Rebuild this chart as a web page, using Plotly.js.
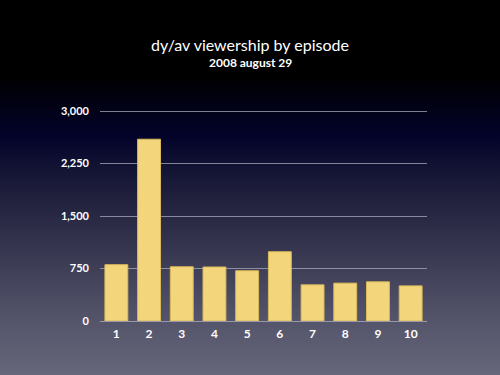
<!DOCTYPE html>
<html>
<head>
<meta charset="utf-8">
<script src="https://cdn.plot.ly/plotly-3.0.1.min.js"></script>
<style>
html,body{margin:0;padding:0;}
body{width:500px;height:375px;overflow:hidden;
background:linear-gradient(to bottom,#000000 0%,#000000 20%,#03032a 36%,#1c1c3a 50%,#34344e 65%,#4f4f66 82%,#67677b 100%);}
#chart{width:500px;height:375px;}
</style>
</head>
<body>
<div id="chart"></div>
<script>
var episodes = ['1','2','3','4','5','6','7','8','9','10'];
var viewers = [805, 2598, 775, 772, 718, 990, 517, 541, 560, 502];
var yTicks = [0, 750, 1500, 2250, 3000];
var titleText = 'dy/av viewership by episode';
var subtitleText = '2008 august 29';

var font = 'Lato, "Open Sans", "DejaVu Sans", sans-serif';

Plotly.newPlot('chart', [{
  type: 'bar',
  x: episodes,
  y: viewers,
  width: 0.7,
  marker: {color: '#f3d67c', line: {color: '#d9b95a', width: 1}},
  hoverinfo: 'none'
}], {
  width: 500, height: 375,
  margin: {l: 100, r: 73, t: 109, b: 54},
  paper_bgcolor: 'rgba(0,0,0,0)',
  plot_bgcolor: 'rgba(0,0,0,0)',
  showlegend: false,
  title: {
    text: titleText,
    font: {family: font, size: 16, color: '#ffffff'},
    xref: 'container', x: 0.5, xanchor: 'center',
    yref: 'container', y: 1 - 45/375, yanchor: 'middle'
  },
  annotations: [{
    text: '<b>' + subtitleText + '</b>',
    xref: 'paper', yref: 'paper',
    x: (250 - 100) / 327, y: (321 - 63) / 212,
    xanchor: 'center', yanchor: 'middle',
    showarrow: false,
    font: {family: font, size: 12, color: '#ffffff'}
  }],
  xaxis: {
    type: 'category',
    range: [-0.5, 9.5],
    showgrid: false,
    showline: false,
    zeroline: false,
    ticks: '',
    ticklabelstandoff: 4,
    tickfont: {family: font, size: 12, color: '#ffffff', weight: 'bold'},
    fixedrange: true
  },
  yaxis: {
    range: [0, 3030],
    tickvals: yTicks,
    tickformat: ',d',
    showgrid: true,
    gridcolor: 'rgba(170,170,185,0.75)',
    gridwidth: 1,
    zeroline: true,
    zerolinecolor: 'rgba(170,170,185,0.8)',
    zerolinewidth: 1,
    showline: false,
    ticks: '',
    ticklabelstandoff: 10,
    tickfont: {family: font, size: 11, color: '#ffffff', weight: 'bold'},
    fixedrange: true
  }
}, {staticPlot: true, displayModeBar: false});
</script>
</body>
</html>
